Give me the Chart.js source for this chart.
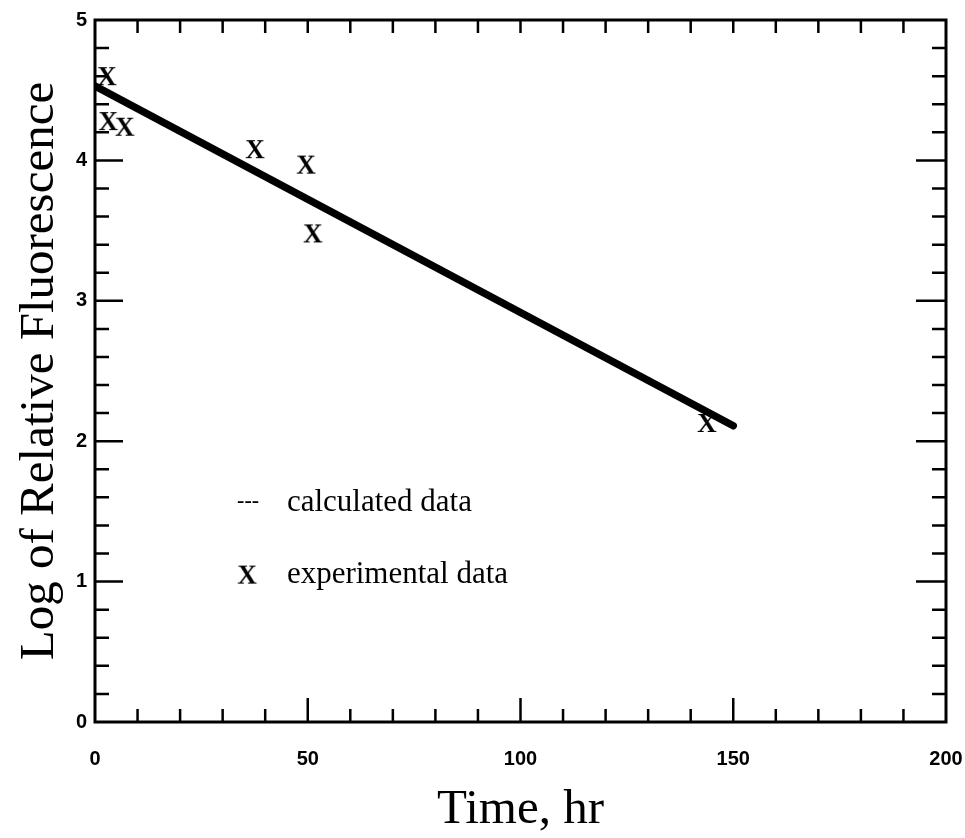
<!DOCTYPE html>
<html>
<head>
<meta charset="utf-8">
<script src="https://cdn.jsdelivr.net/npm/chart.js@4.4.1/dist/chart.umd.min.js"></script>
<style>
html,body{margin:0;padding:0;background:#fff;}
#wrap{width:965px;height:838px;position:relative;}
</style>
</head>
<body>
<div id="wrap"><canvas id="c" width="965" height="838"></canvas></div>
<script>
// Data
const calcX = [0, 150];
const calcY = [4.53, 2.11];
const expX = [2.8, 3.1, 7.0, 37.6, 49.6, 51.2, 143.8];
const expY = [4.60, 4.28, 4.24, 4.08, 3.97, 3.48, 2.13];
const xTicks = [0, 50, 100, 150, 200];
const yTicks = [0, 1, 2, 3, 4, 5];
const legendLabels = ['calculated data', 'experimental data'];
const xTitle = 'Time, hr';
const yTitle = 'Log of Relative Fluorescence';

// X glyph marker
function makeX(size, font){
  const cv = document.createElement('canvas');
  cv.width = size; cv.height = size;
  const g = cv.getContext('2d');
  g.fillStyle = '#000';
  g.font = 'bold ' + font + 'px "Liberation Serif"';
  g.textAlign = 'center'; g.textBaseline = 'alphabetic';
  g.fillText('X', size/2, size/2 + font*0.33);
  return cv;
}
const xMark = makeX(32, 27);

const frame = {
  id: 'frame',
  afterDraw(chart){
    const {ctx, chartArea:a, scales:{x, y}} = chart;
    ctx.save();
    ctx.strokeStyle = '#000';
    ctx.lineWidth = 3;
    ctx.strokeRect(a.left, a.top, a.right - a.left, a.bottom - a.top);
    ctx.lineWidth = 2.5;
    ctx.beginPath();
    for (let v = 10; v < 200; v += 10) {
      const px = x.getPixelForValue(v);
      const major = v % 50 === 0;
      ctx.moveTo(px, a.bottom); ctx.lineTo(px, a.bottom - (major ? 24 : 13));
      ctx.moveTo(px, a.top); ctx.lineTo(px, a.top + 13);
    }
    for (let i = 1; i < 25; i++) {
      const py = y.getPixelForValue(i * 0.2);
      const major = i % 5 === 0;
      ctx.moveTo(a.left, py); ctx.lineTo(a.left + (major ? 28 : 14), py);
      ctx.moveTo(a.right, py); ctx.lineTo(a.right - (major ? 30 : 14), py);
    }
    ctx.stroke();

    // legend text inside plot
    ctx.fillStyle = '#000';
    ctx.textBaseline = 'middle';
    ctx.textAlign = 'left';
    const dx = x.getPixelForValue(33.4);
    const tx = x.getPixelForValue(45.1);
    const ly1 = y.getPixelForValue(1.56);
    const ly2 = y.getPixelForValue(1.05);
    ctx.font = 'bold 22px "Liberation Serif"';
    ctx.fillText('---', dx, ly1 - 2);
    ctx.font = '31px "Liberation Serif"';
    ctx.fillText(legendLabels[0], tx, ly1);
    ctx.drawImage(xMark, dx - 6, ly2 - 16);
    ctx.fillText(legendLabels[1], tx, ly2);
    ctx.restore();
  }
};

new Chart(document.getElementById('c'), {
  type: 'scatter',
  data: {
    datasets: [
      {
        label: legendLabels[0],
        data: calcX.map((v, i) => ({x: v, y: calcY[i]})),
        showLine: true,
        borderColor: '#000',
        borderWidth: 7.5,
        pointRadius: 0,
        borderCapStyle: 'round'
      },
      {
        label: legendLabels[1],
        data: expX.map((v, i) => ({x: v, y: expY[i]})),
        showLine: false,
        pointStyle: xMark,
        pointRadius: 16
      }
    ]
  },
  options: {
    responsive: false,
    animation: false,
    layout: {padding: {left: 0, right: 19, top: 10, bottom: 0}},
    plugins: {legend: {display: false}, tooltip: {enabled: false}},
    scales: {
      x: {
        type: 'linear', min: 0, max: 200,
        afterBuildTicks(s){ s.ticks = xTicks.map(v => ({value: v})); },
        afterFit(s){ s.height = 116; s.paddingRight = 0; s.paddingLeft = 0; },
        grid: {display: false, drawTicks: false},
        border: {display: false},
        ticks: {color: '#000', padding: 25, font: {family: '"Liberation Sans"', weight: 'bold', size: 20}, maxRotation: 0},
        title: {display: true, text: xTitle, color: '#000', font: {family: '"Liberation Serif"', size: 49, lineHeight: 1}, padding: {top: 0, bottom: 3}}
      },
      y: {
        type: 'linear', min: 0, max: 5,
        afterBuildTicks(s){ s.ticks = yTicks.map(v => ({value: v})); },
        afterFit(s){ s.width = 95; },
        grid: {display: false, drawTicks: false},
        border: {display: false},
        ticks: {color: '#000', padding: 8, font: {family: '"Liberation Sans"', weight: 'bold', size: 20}},
        title: {display: true, text: yTitle, color: '#000', font: {family: '"Liberation Serif"', size: 49, lineHeight: 1}, padding: {top: 16, bottom: 0}}
      }
    }
  },
  plugins: [frame]
});
</script>
</body>
</html>
